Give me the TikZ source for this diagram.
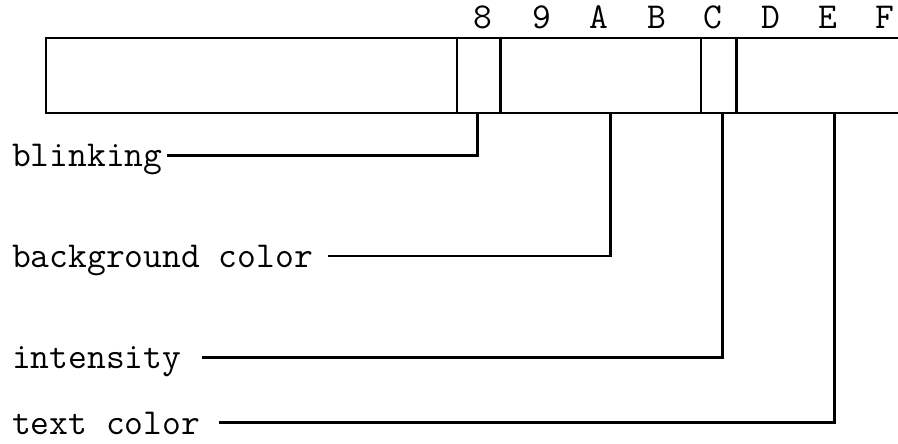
\documentclass[tikz,border=0pt]{standalone}
\usepackage{fontspec}
\begin{document}
\begin{tikzpicture}[x=1pt,y=-1pt,
  lbl/.style={inner sep=0pt,anchor=base west,font=\ttfamily\fontsize{36.5}{42}\selectfont},
  hexlbl/.style={inner sep=0pt,anchor=base,font=\ttfamily\fontsize{36.5}{42}\selectfont},
  wire/.style={line width=2.8pt,line cap=rect,line join=miter}]
\useasboundingbox (0,0) rectangle (898,444);
% register box
\draw[wire] (898,38) -- (46,38) -- (46,113) -- (898,113);
\foreach \x in {457,500.5,701,736.7}
  \draw[wire,line cap=butt] (\x,38) -- (\x,113);
% bit labels
\foreach \t/\x in {8/482.7,9/541.5,A/599,B/656.5,C/713,D/771,E/828,F/885.2}
  \node[hexlbl] (h\t) at (\x,28.3) {\t};
% taps
\coordinate (tblink) at (477.3,113);
\coordinate (tbg) at (610.7,113);
\coordinate (tint) at (722.7,113);
\coordinate (ttext) at (834.7,113);
% field labels
\node[lbl] (blink) at (12,167) {blinking};
\node[lbl] (bg) at (12,267.3) {background color};
\node[lbl] (int) at (12,368.6) {intensity};
\node[lbl] (txt) at (12,434) {text color};
% connectors
\draw[wire,line cap=butt] ([shift={(4,-11.3)}]blink.base east) -| (tblink);
\draw[wire,line cap=butt] ([shift={(15,-11.3)}]bg.base east) -| (tbg);
\draw[wire,line cap=butt] ([shift={(20,-11.3)}]int.base east) -| (tint);
\draw[wire,line cap=butt] ([shift={(19,-11.3)}]txt.base east) -| (ttext);
\end{tikzpicture}
\end{document}
